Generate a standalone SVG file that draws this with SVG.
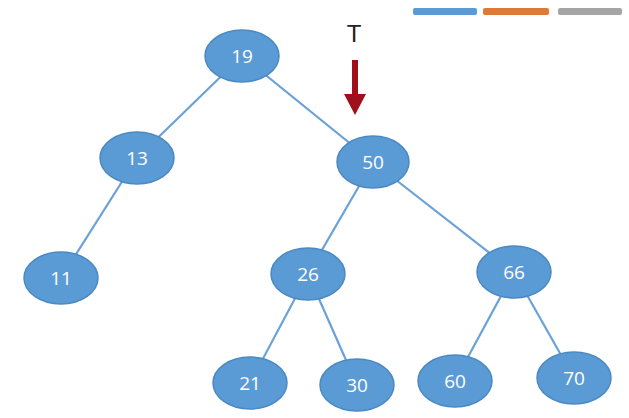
<svg xmlns="http://www.w3.org/2000/svg" width="629" height="418" viewBox="0 0 629 418">
<style>
.n ellipse{fill:#5b9bd5;stroke:#4a89c2;stroke-width:1.5}
.n text{fill:#fff;font-family:"Open Sans","Liberation Sans",sans-serif;font-size:19px;text-anchor:middle;dominant-baseline:central}
#edges line{stroke:#6aa2d8;stroke-width:2.2}
</style>
<rect width="629" height="418" fill="#fff"/>
<rect x="413" y="8" width="64" height="7" rx="2" fill="#5b9bd5"/>
<rect x="483" y="8" width="66" height="7" rx="2" fill="#e07838"/>
<rect x="558" y="8" width="64" height="7" rx="2" fill="#a5a5a5"/>
<g id="edges">
<line x1="242" y1="56" x2="137" y2="158"/>
<line x1="242" y1="56" x2="373" y2="162"/>
<line x1="137" y1="158" x2="61" y2="278"/>
<line x1="373" y1="162" x2="308" y2="274"/>
<line x1="373" y1="162" x2="514" y2="272"/>
<line x1="308" y1="274" x2="250" y2="383"/>
<line x1="308" y1="274" x2="357" y2="385"/>
<line x1="514" y1="272" x2="455" y2="381"/>
<line x1="514" y1="272" x2="574" y2="378"/>
</g>
<g id="n19" class="n"><ellipse cx="242" cy="56" rx="37" ry="26"/><text x="242" y="56">19</text></g>
<g id="n13" class="n"><ellipse cx="137" cy="158" rx="37" ry="26"/><text x="137" y="158">13</text></g>
<g id="n50" class="n"><ellipse cx="373" cy="162" rx="36" ry="26"/><text x="373" y="162">50</text></g>
<g id="n11" class="n"><ellipse cx="61" cy="278" rx="37" ry="26"/><text x="61" y="278">11</text></g>
<g id="n26" class="n"><ellipse cx="308" cy="274" rx="37" ry="26"/><text x="308" y="274">26</text></g>
<g id="n66" class="n"><ellipse cx="514" cy="272" rx="37" ry="26"/><text x="514" y="272">66</text></g>
<g id="n21" class="n"><ellipse cx="250" cy="383" rx="37" ry="26"/><text x="250" y="383">21</text></g>
<g id="n30" class="n"><ellipse cx="357" cy="385" rx="37" ry="26"/><text x="357" y="385">30</text></g>
<g id="n60" class="n"><ellipse cx="455" cy="381" rx="37" ry="26"/><text x="455" y="381">60</text></g>
<g id="n70" class="n"><ellipse cx="574" cy="378" rx="37" ry="26"/><text x="574" y="378">70</text></g>
<g id="pointer">
<text x="354" y="33" font-family="Liberation Sans,sans-serif" font-size="24" text-anchor="middle" dominant-baseline="central" fill="#222">T</text>
<polygon points="352,60 358,60 358,94 366,94 355,115 344,94 352,94" fill="#a0101a"/>
</g>
</svg>
